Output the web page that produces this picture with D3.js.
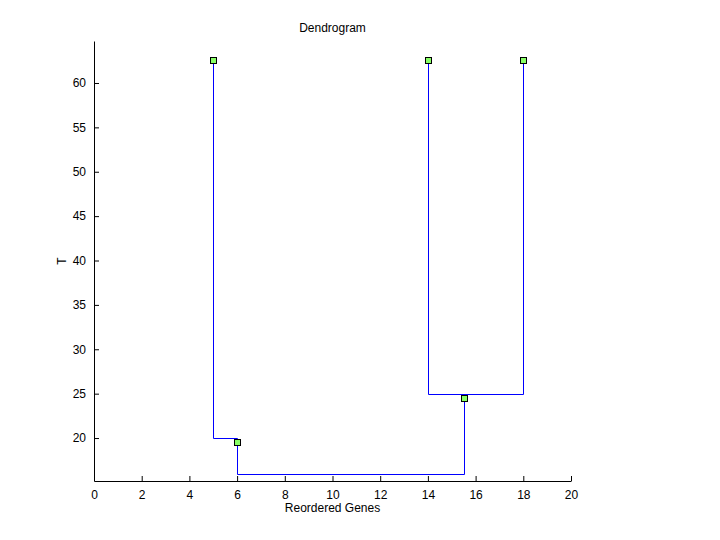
<!DOCTYPE html>
<html lang="en">
<head>
<meta charset="UTF-8">
<title>Dendrogram</title>
<script src="https://d3js.org/d3.v7.min.js"></script>
<style>
  body { margin: 0; background: #fff; }
  text { font-family: "Liberation Sans", Arial, sans-serif; font-size: 12px; fill: #000; }
  .axis path, .axis line { stroke: #000; }
  .link { fill: none; stroke: #0000ff; stroke-width: 1px; }
  .node { fill: #88ff66; stroke: #000; stroke-width: 1px; }
</style>
</head>
<body>
<div id="chart"></div>
<script>
// dendrogram branches (each a polyline)
const branchA_x = [5, 5, 6, 6, 15.5, 15.5];
const branchA_y = [62.6, 20, 20, 16, 16, 25];
const branchB_x = [14, 14, 18, 18];
const branchB_y = [62.6, 25, 25, 62.6];

// node markers
const nodeX = [5, 14, 18, 6, 15.5];
const nodeY = [62.6, 62.6, 62.6, 19.6, 24.5];

const xTicks = [0, 2, 4, 6, 8, 10, 12, 14, 16, 18, 20];
const yTicks = [20, 25, 30, 35, 40, 45, 50, 55, 60];

const W = 720, H = 540;
const margin = { top: 41, right: 149, bottom: 59, left: 94 };
const width = W - margin.left - margin.right,
      height = H - margin.top - margin.bottom;

const x = d3.scaleLinear().domain([0, 20]).range([0, width]);
const y = d3.scaleLinear().domain([15.16, 64.73]).range([height, 0]);

const svg = d3.select("#chart").append("svg")
    .attr("width", W)
    .attr("height", H)
  .append("g")
    .attr("transform", "translate(" + margin.left + "," + margin.top + ")");

// axes (ticks point inward, MATLAB style)
svg.append("g")
    .attr("class", "axis")
    .attr("transform", "translate(0," + height + ")")
    .call(d3.axisBottom(x).tickValues(xTicks).tickSizeInner(-5).tickSizeOuter(0).tickPadding(9))
    .call(g => g.selectAll("text").style("font-size", "12px").style("font-family", null));

svg.append("g")
    .attr("class", "axis")
    .call(d3.axisLeft(y).tickValues(yTicks).tickSizeInner(-5).tickSizeOuter(0).tickPadding(8))
    .call(g => g.selectAll("text").style("font-size", "12px").style("font-family", null));

// snap to pixel centres so 1px lines stay sharp
const px = v => Math.round(v) + 0.5;
const line = d3.line().x(d => px(x(d[0]))).y(d => px(y(d[1])));

svg.append("path")
    .attr("class", "link")
    .attr("d", line(d3.zip(branchA_x, branchA_y)));
svg.append("path")
    .attr("class", "link")
    .attr("d", line(d3.zip(branchB_x, branchB_y)));

svg.selectAll(".node")
    .data(d3.zip(nodeX, nodeY))
  .enter().append("rect")
    .attr("class", "node")
    .attr("x", d => px(x(d[0])) - 3)
    .attr("y", d => px(y(d[1])) - 3)
    .attr("width", 6)
    .attr("height", 6);

// title and labels
svg.append("text")
    .attr("x", width / 2)
    .attr("y", -9)
    .style("text-anchor", "middle")
    .text("Dendrogram");

svg.append("text")
    .attr("x", width / 2)
    .attr("y", height + 31)
    .style("text-anchor", "middle")
    .text("Reordered Genes");

svg.append("text")
    .attr("transform", "translate(" + (-28) + "," + (height / 2) + ") rotate(-90)")
    .style("text-anchor", "middle")
    .text("T");
</script>
</body>
</html>
